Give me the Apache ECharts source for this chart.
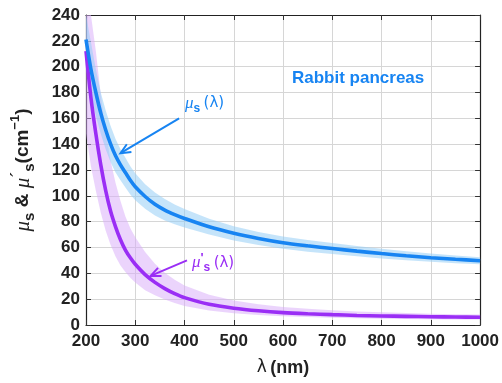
<!DOCTYPE html>
<html>
<head>
<meta charset="utf-8">
<script src="https://cdn.jsdelivr.net/npm/echarts@6/dist/echarts.min.js"></script>
<style>
html,body{margin:0;padding:0;background:#fff;}
#c{width:502px;height:383px;}
</style>
</head>
<body>
<div id="c"></div>
<script>
// wavelength (nm)
var lambda = [200,210,220,230,240,250,260,270,280,290,300,320,340,360,380,400,450,500,550,600,650,700,750,800,850,900,950,1000];
// mu_s (cm^-1) and its band
var muS    = [221,198,180,164,151,140,131,124,118,112,107,99.5,93.5,89,85.5,82.5,76,71,67,63.7,61.3,59.2,57.2,55.3,53.6,52.1,50.9,49.8];
var muSLo  = [199,178,162,148,136,126,118,112,106.5,101,96.5,90,84.8,81,78,75.5,70,65.5,62,59,56.8,55,53.3,51.5,50.1,48.9,47.9,47.1];
var muSHi  = [245,219,198,180,166,154,144,136,129.5,123,117.5,109,102.5,97.5,93.3,89.8,82.3,76.5,72,68.5,65.8,63.4,61.1,59.1,57.1,55.3,53.8,52.5];
// mu_s' (cm^-1) and its band
var muSp   = [212,176,148,124,104,88,76,66,58,52,47,39,33,28.2,24.3,21.2,16,13,11,9.6,8.7,8.0,7.4,7.0,6.7,6.4,6.2,6.0];
var muSpLo = [148,123,104,87,73,62,53,46,41,36.5,33,27,23,19.7,17,14.8,11.2,9.1,7.7,6.7,6.1,5.6,5.2,4.9,4.7,4.5,4.3,4.2];
var muSpHi = [300,250,212,178,150,127,110,96,84,75,68,56.5,47.5,40.5,35,30.5,23.5,19,16,14,12.5,11.4,10.5,9.8,9.3,8.8,8.4,8.1];
// annotation arrows: [fromLambda, fromValue, toLambda, toValue]
var arrowMuS  = [389, 160, 270, 133];
var arrowMuSp = [405, 50, 331, 38];
// axis ticks
var xTicks = {min:200, max:1000, step:100};
var yTicks = {min:0, max:240, step:20};

function pairs(ys){ return lambda.map(function(x,i){return [x, ys[i]];}); }

var BLUE = '#1784f2', PURPLE = '#9a2ef5';
var BLUE_BAND = 'rgba(150,205,245,0.55)', PURPLE_BAND = 'rgba(215,170,250,0.5)';
var FONT = 'Liberation Sans';
var gridColor = '#d6d6d6';

function axisCommon(extra){
  var a = {
    type:'value',
    axisLine:{show:true, onZero:false, lineStyle:{color:'#222', width:1.2}},
    axisTick:{show:true, inside:true, length:5, lineStyle:{color:'#333'}},
    splitLine:{show:false},
    axisLabel:{show:false}
  };
  for (var k in extra) a[k]=extra[k];
  return a;
}

function bandRender(hi, lo, color){
  return function(params, api){
    if (params.dataIndex !== 0) return null;
    var cs = params.coordSys;
    var pts = [];
    for (var i=0;i<lambda.length;i++) pts.push(api.coord([lambda[i], hi[i]]));
    for (var j=lambda.length-1;j>=0;j--) pts.push(api.coord([lambda[j], lo[j]]));
    pts = echarts.graphic.clipPointsByRect(pts, {x:cs.x, y:cs.y, width:cs.width, height:cs.height});
    return {type:'polygon', shape:{points:pts}, style:{fill:color}, silent:true};
  };
}

function arrowRender(a, color){
  return function(params, api){
    if (params.dataIndex !== 0) return null;
    var p0 = api.coord([a[0], a[1]]), p1 = api.coord([a[2], a[3]]);
    var ang = Math.atan2(p0[1]-p1[1], p0[0]-p1[0]);
    var L = 11, s = 0.42;
    var h1 = [p1[0]+L*Math.cos(ang+s), p1[1]+L*Math.sin(ang+s)];
    var h2 = [p1[0]+L*Math.cos(ang-s), p1[1]+L*Math.sin(ang-s)];
    return {type:'group', silent:true, children:[
      {type:'line', shape:{x1:p0[0], y1:p0[1], x2:p1[0], y2:p1[1]}, style:{stroke:color, lineWidth:2}},
      {type:'polyline', shape:{points:[h1, p1, h2]}, style:{stroke:color, lineWidth:2, fill:null}}
    ]};
  };
}

var chart = echarts.init(document.getElementById('c'), null, {renderer:'canvas'});
var option = {
  animation:false,
  backgroundColor:'#fff',
  grid:{left:86, right:18, top:15, bottom:58, containLabel:false},
  xAxis:[
    axisCommon({min:xTicks.min, max:xTicks.max, interval:xTicks.step, position:'bottom',
      splitLine:{show:true, lineStyle:{color:gridColor, width:1}},
      axisLabel:{show:true, color:'#222', fontFamily:FONT, fontWeight:'bold', fontSize:17, margin:8,
        formatter:function(v){return String(v);}},
      name:'{l|λ} {b|(nm)}', nameLocation:'middle', nameGap:34,
      nameTextStyle:{rich:{
        l:{fontFamily:'DejaVu Sans', fontSize:17, color:'#222'},
        b:{fontFamily:FONT, fontWeight:'bold', fontSize:18, color:'#222'}
      }}
    }),
    axisCommon({min:xTicks.min, max:xTicks.max, interval:xTicks.step, position:'top'})
  ],
  yAxis:[
    axisCommon({min:yTicks.min, max:yTicks.max, interval:yTicks.step, position:'left',
      splitLine:{show:true, lineStyle:{color:gridColor, width:1}},
      axisLabel:{show:true, color:'#222', fontFamily:FONT, fontWeight:'bold', fontSize:17, margin:6},
      name:'{mu|μ}{sub|s}{b| & }{mu|μ}{pr|´}{sub|s}{b|(cm}{sup|−1}{b|)}',
      nameLocation:'middle', nameGap:49, nameRotate:90,
      nameTextStyle:{rich:{
        mu:{fontFamily:'Liberation Serif', fontStyle:'italic', fontSize:21, color:'#222', lineHeight:28, verticalAlign:'middle'},
        pr:{fontFamily:'Liberation Serif', fontSize:18, color:'#222', lineHeight:28, verticalAlign:'top'},
        sub:{fontFamily:FONT, fontWeight:'bold', fontSize:15, color:'#222', lineHeight:28, verticalAlign:'bottom'},
        sup:{fontFamily:FONT, fontWeight:'bold', fontSize:13, color:'#222', lineHeight:28, verticalAlign:'top'},
        b:{fontFamily:FONT, fontWeight:'bold', fontSize:19, color:'#222', lineHeight:28, verticalAlign:'middle'}
      }}
    }),
    axisCommon({min:yTicks.min, max:yTicks.max, interval:yTicks.step, position:'right'})
  ],
  series:[
    {type:'custom', data:[0], renderItem:bandRender(muSpHi, muSpLo, PURPLE_BAND), z:1, silent:true},
    {type:'custom', data:[0], renderItem:bandRender(muSHi, muSLo, BLUE_BAND), z:2, silent:true},
    {type:'line', name:"mu_s'", data:pairs(muSp), smooth:0.3, symbol:'none', lineStyle:{color:PURPLE, width:3.6}, z:3},
    {type:'line', name:'mu_s', data:pairs(muS), smooth:0.3, symbol:'none', lineStyle:{color:BLUE, width:3.6}, z:4},
    {type:'custom', data:[0], renderItem:arrowRender(arrowMuS, BLUE), z:5, silent:true},
    {type:'custom', data:[0], renderItem:arrowRender(arrowMuSp, PURPLE), z:5, silent:true}
  ],
  graphic:[
    {type:'text', left:292, top:70, z:10, style:{text:'Rabbit pancreas', fill:BLUE, font:'bold 17px "Liberation Sans"'}},
    {type:'text', left:185, top:95, z:10, style:{
      text:'{mu|μ}{sub|s} {n|(λ)}',
      rich:{
        mu:{fontFamily:'Liberation Serif', fontStyle:'italic', fontSize:17, fill:BLUE, lineHeight:22, verticalAlign:'middle'},
        sub:{fontFamily:FONT, fontWeight:'bold', fontSize:12, fill:BLUE, lineHeight:22, verticalAlign:'bottom'},
        n:{fontFamily:'DejaVu Sans', fontSize:15, fill:BLUE, lineHeight:22, verticalAlign:'middle'}
      }}},
    {type:'text', left:192, top:252, z:10, style:{
      text:'{mu|μ}{pr|\'}{sub|s} {n|(λ)}',
      rich:{
        mu:{fontFamily:'Liberation Serif', fontStyle:'italic', fontSize:17, fill:PURPLE, lineHeight:22, verticalAlign:'middle'},
        pr:{fontFamily:FONT, fontWeight:'bold', fontSize:13, fill:PURPLE, lineHeight:22, verticalAlign:'top'},
        sub:{fontFamily:FONT, fontWeight:'bold', fontSize:12, fill:PURPLE, lineHeight:22, verticalAlign:'bottom'},
        n:{fontFamily:'DejaVu Sans', fontSize:15, fill:PURPLE, lineHeight:22, verticalAlign:'middle'}
      }}}
  ]
};
chart.setOption(option);
</script>
</body>
</html>
